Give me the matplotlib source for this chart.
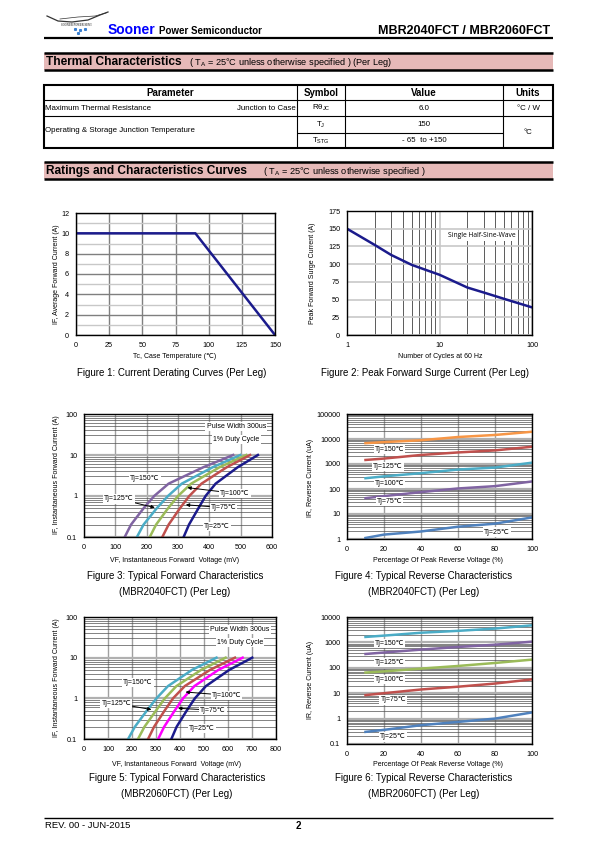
import matplotlib
matplotlib.use('Agg')
import matplotlib.pyplot as plt
from matplotlib.patches import Rectangle
from matplotlib.ticker import FixedLocator, NullFormatter

plt.rcParams['font.family'] = ['Liberation Sans', 'DejaVu Sans']
plt.rcParams['mathtext.fontset'] = 'custom'
plt.rcParams['mathtext.rm'] = 'Liberation Sans'

# ---- data ----
# fig 1: current derating
f1_tc = [0, 90, 150]
f1_if = [10, 10, 0]

# fig 2: peak surge current
f2_cycles = [1, 2, 3, 5, 10, 20, 30, 50, 100]
f2_ifsm = [150, 127, 113, 99, 85, 67, 60, 51, 39]

# fig 3: forward characteristics MBR2040FCT (current levels, voltage in mV)
fwd_if = [0.1, 0.2, 0.5, 1, 2, 5, 10]
f3_150 = [130, 150, 190, 224, 270, 380, 476]
f3_125 = [169, 190, 232, 268, 312, 410, 499]
f3_100 = [210, 230, 268, 300, 342, 432, 518]
f3_75 = [250, 270, 306, 336, 375, 455, 530]
f3_25 = [318, 335, 365, 388, 420, 490, 555]

# fig 4: reverse characteristics MBR2040FCT (uA)
rev_pct = [10, 20, 40, 60, 80, 100]
f4_150 = [6800, 7500, 8900, 12000, 14500, 19500]
f4_125 = [1450, 1650, 2300, 2900, 3500, 4900]
f4_100 = [270, 320, 430, 600, 720, 1130]
f4_75 = [43, 52, 75, 105, 130, 200]
f4_25 = [1.1, 1.5, 2.0, 3.1, 4.1, 7.3]

# fig 5: forward characteristics MBR2060FCT
f5_150 = [184, 212, 262, 302, 350, 450, 552]
f5_125 = [225, 252, 300, 337, 385, 488, 590]
f5_100 = [267, 292, 336, 371, 420, 525, 629]
f5_75 = [309, 334, 378, 413, 460, 560, 661]
f5_25 = [364, 386, 428, 462, 508, 605, 701]

# fig 6: reverse characteristics MBR2060FCT
f6_150 = [1640, 1850, 2400, 2850, 3500, 4700]
f6_125 = [350, 400, 520, 660, 810, 1070]
f6_100 = [65, 72, 93, 118, 155, 210]
f6_75 = [8.4, 10, 14, 18, 24, 35]
f6_25 = [0.30, 0.36, 0.55, 0.74, 1.0, 1.75]

NAVY = '#1B1B8C'
PURPLE = '#8064A2'
CYAN = '#4BACC6'
GREEN = '#9BBB59'
RED = '#C0504D'
ORANGE = '#F79646'
BLUE = '#4F81BD'
MAGENTA = '#FF00FF'
PINK = '#E6B9B8'

W, H = 595, 842
fig = plt.figure(figsize=(W / 100, H / 100), dpi=100)
page = fig.add_axes([0, 0, 1, 1])
page.set_xlim(0, W)
page.set_ylim(H, 0)
page.axis('off')


def box(l, t, r, b):
    a = fig.add_axes([l / W, 1 - b / H, (r - l) / W, (b - t) / H])
    for s in a.spines.values():
        s.set_linewidth(1.0)
        s.set_color('black')
    a.tick_params(which='both', length=0, labelsize=5.2, pad=5)
    a.set_axisbelow(True)
    return a


def hline(x0, x1, y, lw=1.0):
    page.plot([x0, x1], [y, y], color='black', lw=lw, solid_capstyle='butt')


def vline(x, y0, y1, lw=1.0):
    page.plot([x, x], [y0, y1], color='black', lw=lw, solid_capstyle='butt')


# ---- header ----
page.plot([47, 58, 72, 88, 100, 108], [16, 21, 22, 20, 15, 12], color='#333333', lw=0.9)
page.plot([60, 78, 95, 106], [19, 17, 16, 13], color='#333333', lw=0.5)
page.text(76, 25, 'SOONER POWER SEMI', fontsize=1.8, ha='center', va='center', family='DejaVu Serif')
for dx, dy in [(75, 29), (80, 30), (85, 29), (78, 33)]:
    page.plot(dx, dy, 's', color='#3A7FD0', ms=1.2)
page.text(108, 34, 'Sooner', fontsize=10, fontweight='bold', color='#0000FF', va='baseline')
page.text(159, 34, 'Power Semiconductor', fontsize=7, fontweight='bold', va='baseline')
page.text(550, 34, 'MBR2040FCT / MBR2060FCT', fontsize=9, fontweight='bold', ha='right', va='baseline')
hline(44, 553, 38, lw=1.6)


def band(y0, y1, title, sub, subx):
    page.add_patch(Rectangle((44, y0), 509, y1 - y0, facecolor=PINK, edgecolor='none'))
    hline(44, 553, y0, lw=1.8)
    hline(44, 553, y1, lw=1.8)
    page.text(46, (y0 + y1) / 2 + 0.5, title, fontsize=8.6, fontweight='bold', va='center')
    page.text(subx, (y0 + y1) / 2 + 0.8, sub, fontsize=6.6, va='center')


band(53, 70, 'Thermal Characteristics',
     '( T$_\\mathregular{A}$ = 25°C unless otherwise specified ) (Per Leg)', 189)

# ---- table ----
tl, tr, tt, tb = 44, 553, 85, 148
c1, c2, c3 = 297, 345, 503
page.add_patch(Rectangle((tl, tt), tr - tl, tb - tt, facecolor='none', edgecolor='black', lw=1.5))
hline(tl, tr, 100, lw=0.8)
hline(tl, tr, 116, lw=0.8)
hline(c1, c3, 133, lw=0.8)
for cx in (c1, c2, c3):
    vline(cx, tt, tb, lw=0.8)
hdr_y = 93
hs = 7
page.text((tl + c1) / 2, hdr_y, 'Parameter', fontsize=hs, fontweight='bold', ha='center', va='center')
page.text((c1 + c2) / 2, hdr_y, 'Symbol', fontsize=hs, fontweight='bold', ha='center', va='center')
page.text((c2 + c3) / 2, hdr_y, 'Value', fontsize=hs, fontweight='bold', ha='center', va='center')
page.text((c3 + tr) / 2, hdr_y, 'Units', fontsize=hs, fontweight='bold', ha='center', va='center')
ts = 5.7
page.text(45, 108, 'Maximum Thermal Resistance', fontsize=ts, va='center')
page.text(296, 108, 'Junction to Case', fontsize=ts, va='center', ha='right')
page.text((c1 + c2) / 2, 108, 'Rθ$_\\mathregular{JC}$', fontsize=ts, ha='center', va='center')
page.text((c2 + c3) / 2, 108, '6.0', fontsize=ts, ha='center', va='center')
page.text((c3 + tr) / 2, 109, '°C / W', fontsize=ts, ha='center', va='center')
page.text(45, 131, 'Operating & Storage Junction Temperature', fontsize=ts, va='center')
page.text((c1 + c2) / 2, 124.5, 'T$_\\mathregular{J}$', fontsize=ts, ha='center', va='center')
page.text((c2 + c3) / 2, 124.5, '150', fontsize=ts, ha='center', va='center')
page.text((c1 + c2) / 2, 141, 'T$_\\mathregular{STG}$', fontsize=ts, ha='center', va='center')
page.text((c2 + c3) / 2, 141, '- 65  to +150', fontsize=ts, ha='center', va='center')
page.text((c3 + tr) / 2, 133, '°C', fontsize=ts, ha='center', va='center')

band(162, 179, 'Ratings and Characteristics Curves',
     '( T$_\\mathregular{A}$ = 25°C unless otherwise specified )', 263)

GDARK = '#7F7F7F'
GLIGHT = '#C8C8C8'
AX_FS = 5
CAP_FS = 7

# ---- figure 1 ----
ax1 = box(76, 213, 275, 335)
ax1.plot(f1_tc, f1_if, color=NAVY, lw=1.8)
ax1.set_xlim(0, 150)
ax1.set_ylim(0, 12)
ax1.set_xticks(range(0, 151, 25))
ax1.set_yticks(range(0, 13, 2))
ax1.set_yticks(range(1, 12, 2), minor=True)
ax1.grid(axis='x', which='major', color=GDARK, lw=1.0)
ax1.grid(axis='y', which='major', color=GDARK, lw=1.0)
ax1.grid(axis='y', which='minor', color=GLIGHT, lw=1.0)
page.text(175, 356, 'Tc, Case Temperature (℃)', fontsize=AX_FS, ha='center', va='center')
page.text(57, 274, 'IF, Average Forward Current (A)', fontsize=AX_FS, ha='center', va='center', rotation=90)
page.text(172, 373, 'Figure 1: Current Derating Curves (Per Leg)', fontsize=CAP_FS, ha='center', va='center')

# ---- figure 2 ----
ax2 = box(347, 211, 532, 335)
ax2.plot(f2_cycles, f2_ifsm, color=NAVY, lw=1.8)
ax2.set_xscale('log')
ax2.set_xlim(1, 100)
ax2.set_ylim(0, 175)
ax2.set_xticks([1, 10, 100])
ax2.set_xticklabels(['1', '10', '100'])
ax2.xaxis.set_minor_locator(FixedLocator([2, 3, 4, 5, 6, 7, 8, 9, 20, 30, 40, 50, 60, 70, 80, 90]))
ax2.xaxis.set_minor_formatter(NullFormatter())
ax2.set_yticks(range(0, 176, 25))
ax2.grid(axis='x', which='minor', color='#404040', lw=0.6)
ax2.grid(axis='x', which='major', color=GLIGHT, lw=1.2)
ax2.grid(axis='y', which='major', color=GLIGHT, lw=1.2)
ax2.text(29, 140, 'Single Half-Sine-Wave', fontsize=4.9, family=['Open Sans', 'DejaVu Sans'],
         ha='center', va='center', bbox=dict(facecolor='white', edgecolor='none', pad=1.5))
page.text(440, 357, 'Number of Cycles at 60 Hz', fontsize=AX_FS, ha='center', va='center')
page.text(313, 273, 'Peak Forward Surge Current (A)', fontsize=AX_FS, ha='center', va='center', rotation=90)
page.text(425, 373, 'Figure 2: Peak Forward Surge Current (Per Leg)', fontsize=CAP_FS, ha='center', va='center')


def log_grid(ax):
    ax.grid(axis='y', which='minor', color='#505050', lw=0.5)
    ax.grid(axis='y', which='major', color='#B0B0B0', lw=1.6)
    ax.grid(axis='x', which='major', color='#A0A0A0', lw=1.0)
    ax.yaxis.set_minor_formatter(NullFormatter())


lbl_box = dict(facecolor='white', edgecolor='none', pad=0.8)
arrow = dict(arrowstyle='-|>', color='black', lw=0.7, mutation_scale=5, shrinkA=0, shrinkB=0)
LBL_FS = 5


def fwd_chart(l, t, r, b, xmax, curves, labels, pulse_x):
    ax = box(l, t, r, b)
    for xs, col in curves:
        ax.plot(xs, fwd_if, color=col, lw=1.8)
    ax.set_yscale('log')
    ax.set_xlim(0, xmax)
    ax.set_ylim(0.1, 100)
    ax.set_xticks(range(0, xmax + 1, 100))
    ax.set_yticks([0.1, 1, 10, 100])
    ax.set_yticklabels(['0.1', '1', '10', '100'])
    log_grid(ax)
    for txt, xy, xyt in labels:
        if xy is None:
            ax.text(xyt[0], xyt[1], txt, fontsize=LBL_FS, ha='center', va='center', bbox=lbl_box)
        else:
            ax.annotate(txt, xy=xy, xytext=xyt, fontsize=LBL_FS, ha='center', va='center',
                        bbox=lbl_box, arrowprops=arrow)
    ax.text(pulse_x, 50, 'Pulse Width 300us', fontsize=LBL_FS, ha='center', va='center', bbox=lbl_box)
    ax.text(pulse_x, 24, '1% Duty Cycle', fontsize=LBL_FS, ha='center', va='center', bbox=lbl_box)
    return ax


def rev_chart(l, t, r, b, ymin, ymax, curves, labels):
    ax = box(l, t, r, b)
    for ys, col in curves:
        ax.plot(rev_pct, ys, color=col, lw=1.8)
    ax.set_yscale('log')
    ax.set_xlim(0, 100)
    ax.set_ylim(ymin, ymax)
    ax.set_xticks(range(0, 101, 20))
    ticks = [t for t in [0.1, 1, 10, 100, 1000, 10000, 100000] if ymin <= t <= ymax]
    ax.set_yticks(ticks)
    ax.set_yticklabels(['%g' % t for t in ticks])
    log_grid(ax)
    for txt, xy in labels:
        ax.text(xy[0], xy[1], txt, fontsize=LBL_FS, ha='center', va='center', bbox=lbl_box)
    return ax


# ---- figure 3 ----
fwd_chart(84, 414, 272, 537, 600,
          [(f3_150, PURPLE), (f3_125, CYAN), (f3_100, GREEN), (f3_75, RED), (f3_25, NAVY)],
          [('Tj=150℃', None, (195, 2.6)),
           ('Tj=125℃', (226, 0.52), (111, 0.85)),
           ('Tj=100℃', (330, 1.6), (481, 1.16)),
           ('Tj=75℃', (325, 0.61), (445, 0.52)),
           ('Tj=25℃', None, (424, 0.18))], 486)
page.text(175, 561, 'VF, Instantaneous Forward  Voltage (mV)', fontsize=AX_FS, ha='center', va='center')
page.text(57, 475, 'IF, Instantaneous Forward Current (A)', fontsize=AX_FS, ha='center', va='center', rotation=90)
page.text(175, 576, 'Figure 3: Typical Forward Characteristics', fontsize=CAP_FS, ha='center', va='center')
page.text(175, 592, '(MBR2040FCT) (Per Leg)', fontsize=CAP_FS, ha='center', va='center')

# ---- figure 4 ----
rev_chart(347, 414, 532, 539, 1, 100000,
          [(f4_150, ORANGE), (f4_125, RED), (f4_100, CYAN), (f4_75, PURPLE), (f4_25, BLUE)],
          [('Tj=150℃', (23, 3900)), ('Tj=125℃', (22, 790)), ('Tj=100℃', (23, 170)),
           ('Tj=75℃', (23, 31)), ('Tj=25℃', (81, 1.9))])
page.text(438, 561, 'Percentage Of Peak Reverse Voltage (%)', fontsize=AX_FS, ha='center', va='center')
page.text(311, 478, 'IR, Reverse Current (uA)', fontsize=AX_FS, ha='center', va='center', rotation=90)
page.text(424, 576, 'Figure 4: Typical Reverse Characteristics', fontsize=CAP_FS, ha='center', va='center')
page.text(424, 592, '(MBR2040FCT) (Per Leg)', fontsize=CAP_FS, ha='center', va='center')

# ---- figure 5 ----
fwd_chart(84, 617, 276, 739, 800,
          [(f5_150, CYAN), (f5_125, GREEN), (f5_100, RED), (f5_75, MAGENTA), (f5_25, NAVY)],
          [('Tj=150℃', None, (225, 2.4)),
           ('Tj=125℃', (281, 0.53), (135, 0.75)),
           ('Tj=100℃', (423, 1.43), (594, 1.19)),
           ('Tj=75℃', (392, 0.57), (538, 0.51)),
           ('Tj=25℃', None, (492, 0.18))], 650)
page.text(177, 764, 'VF, Instantaneous Forward  Voltage (mV)', fontsize=AX_FS, ha='center', va='center')
page.text(57, 678, 'IF, Instantaneous Forward Current (A)', fontsize=AX_FS, ha='center', va='center', rotation=90)
page.text(177, 778, 'Figure 5: Typical Forward Characteristics', fontsize=CAP_FS, ha='center', va='center')
page.text(177, 794, '(MBR2060FCT) (Per Leg)', fontsize=CAP_FS, ha='center', va='center')

# ---- figure 6 ----
rev_chart(347, 617, 532, 744, 0.1, 10000,
          [(f6_150, CYAN), (f6_125, PURPLE), (f6_100, GREEN), (f6_75, RED), (f6_25, BLUE)],
          [('Tj=150℃', (23, 900)), ('Tj=125℃', (23, 162)), ('Tj=100℃', (23, 35)),
           ('Tj=75℃', (25, 5.4)), ('Tj=25℃', (25, 0.19))])
page.text(438, 765, 'Percentage Of Peak Reverse Voltage (%)', fontsize=AX_FS, ha='center', va='center')
page.text(311, 680, 'IR, Reverse Current (uA)', fontsize=AX_FS, ha='center', va='center', rotation=90)
page.text(424, 778, 'Figure 6: Typical Reverse Characteristics', fontsize=CAP_FS, ha='center', va='center')
page.text(424, 794, '(MBR2060FCT) (Per Leg)', fontsize=CAP_FS, ha='center', va='center')

# ---- footer ----
hline(44, 553, 818, lw=1.0)
page.text(45, 826, 'REV. 00 - JUN-2015', fontsize=6.8, va='center')
page.text(298, 826, '2', fontsize=7, fontweight='bold', va='center', ha='center')

fig.savefig('out.png', dpi=100)
